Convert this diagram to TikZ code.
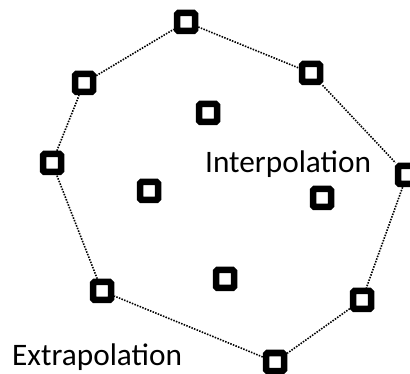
\documentclass[tikz,border=0pt]{standalone}
\usepackage{fontspec}
\setmainfont{Carlito}
\begin{document}
\begin{tikzpicture}[x=1pt,y=-1pt,
  pt/.style={draw=black,line width=6.5pt,rectangle,minimum size=18pt,inner sep=0pt,rounded corners=1.5pt,fill=white},
  hull/.style={line width=1.6pt,dash pattern=on 1.5pt off 1.3pt,black},
  lbl/.style={anchor=base west,inner sep=0pt,font=\fontsize{31.3}{36}\selectfont}]
\useasboundingbox (0,0) rectangle (410,374);
\node[pt] (p1) at (186,22) {};
\node[pt] (p2) at (311,73) {};
\node[pt] (p3) at (407,175) {};
\node[pt] (p4) at (362,300) {};
\node[pt] (p5) at (275,362) {};
\node[pt] (p6) at (102,291) {};
\node[pt] (p7) at (52,163) {};
\node[pt] (p8) at (84,83) {};
\node[pt] (q1) at (208,113) {};
\node[pt] (q2) at (149,191) {};
\node[pt] (q3) at (322,198) {};
\node[pt] (q4) at (225,279) {};
\draw[hull] (p1) -- (p2) -- (p3) -- (p4) -- (p5) -- (p6) -- (p7) -- (p8) -- (p1);
\node[lbl] (t1) at (205,173) {Interpolation};
\node[lbl] (t2) at (12,366) {Extrapolation};
\end{tikzpicture}
\end{document}
